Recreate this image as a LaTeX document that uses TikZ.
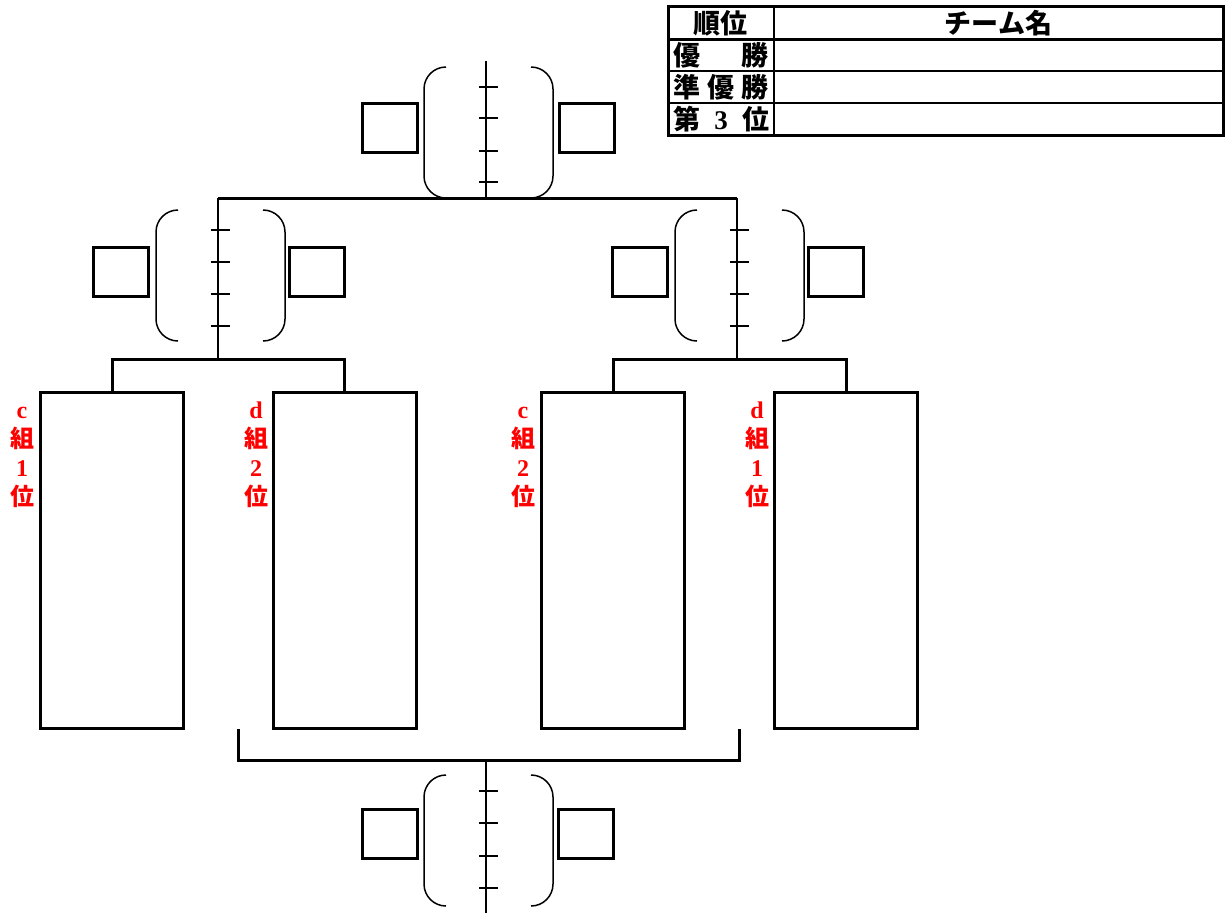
\documentclass[tikz,border=0pt]{standalone}
\usepackage{fontspec}
\newfontfamily\jp{Noto Sans CJK JP}
\newfontfamily\lat{Liberation Serif}
\begin{document}
\begin{tikzpicture}[x=1pt,y=-1pt,
  thickln/.style={line width=3pt},
  thinln/.style={line width=2pt},
  tickln/.style={line width=1.5pt},
  parenln/.style={line width=1.5pt, rounded corners=22pt},
  team/.style={draw, line width=3pt, minimum width=143pt, minimum height=336pt, inner sep=0pt},
  score/.style={draw, line width=3pt, minimum width=55pt, minimum height=49pt, inner sep=0pt},
  lbl/.style={text=red, font=\jp\bfseries\fontsize{24}{29}\selectfont, align=center, inner sep=0pt},
  tbl/.style={font=\jp\bfseries\fontsize{27}{27}\selectfont, inner sep=0pt},
  tblline/.style={line width=2.5pt}]
\useasboundingbox (0,0) rectangle (1228,914);

% ---- table ----
\draw[line width=3pt] (668,6) rectangle (1223,135);
\draw[tblline] (668,39.5) -- (1223,39.5);
\draw[tblline] (668,71) -- (1223,71);
\draw[tblline] (668,103) -- (1223,103);
\draw[tblline] (774,6) -- (774,135);
\node[tbl] (h1) at (720,23) {順位};
\node[tbl] (h2) at (998.5,23) {チーム名};
\node[tbl] (w1) at (721,55.5) {\makebox[96pt]{優\hfill 勝}};
\node[tbl] (w2) at (721,87.5) {\makebox[96pt]{準\hfill 優\hfill 勝}};
\node[tbl] (w3) at (721,119.5) {\makebox[96pt]{第\hfill{\lat 3}\hfill 位}};

% ---- team boxes ----
\node[team] (r1) at (112.2,560) {};
\node[team] (r2) at (344.5,560) {};
\node[team] (r3) at (613,560) {};
\node[team] (r4) at (846,560) {};

% ---- red labels ----
\node[lbl] (l1) at (22,453) {{\lat c}\vphantom{組}\\組\\{\lat 1}\vphantom{組}\\位};
\node[lbl] (l2) at (256,453) {{\lat d}\vphantom{組}\\組\\{\lat 2}\vphantom{組}\\位};
\node[lbl] (l3) at (523,453) {{\lat c}\vphantom{組}\\組\\{\lat 2}\vphantom{組}\\位};
\node[lbl] (l4) at (757,453) {{\lat d}\vphantom{組}\\組\\{\lat 1}\vphantom{組}\\位};

% ---- junction coordinates ----
\coordinate (jL) at (218,359);
\coordinate (jR) at (737,359);
\coordinate (tL) at (218,198);
\coordinate (tR) at (737,198);
\coordinate (tM) at (486,198);
\coordinate (tTop) at (486,61);
\coordinate (bL) at (238,729);
\coordinate (bR) at (739,729);
\coordinate (bM) at (486,760);
\coordinate (bBot) at (486,913);

% ---- connectors ----
\draw[thickln] (r1.north) |- (jL) -| (r2.north);
\draw[thickln] (r3.north) |- (jR) -| (r4.north);
\draw[thinln] (jL) -- (tL);
\draw[thinln] (jR) -- (tR);
\draw[thickln] (tL) -- (tR);
\draw[thinln] (tM) -- (tTop);
\draw[thickln] (bL) |- (bM) -| (bR);
\draw[thinln] (bM) -- (bBot);

% ---- score boxes ----
\node[score] (s1) at (389.5,127.5) {};
\node[score] (s2) at (586.5,127.5) {};
\node[score] (s3) at (120.5,271.5) {};
\node[score] (s4) at (317,271.5) {};
\node[score] (s5) at (639.5,271.5) {};
\node[score] (s6) at (836,271.5) {};
\node[score] (s7) at (390,834) {};
\node[score] (s8) at (585.5,834) {};

% ---- parentheses ----
\foreach \xc/\yt in {486/67, 218/210, 737/210, 486/775} {
  \draw[parenln] (\xc-40,\yt) -- (\xc-62,\yt) -- (\xc-62,\yt+131) -- (\xc-40,\yt+131);
  \draw[parenln] (\xc+45,\yt) -- (\xc+67,\yt) -- (\xc+67,\yt+131) -- (\xc+45,\yt+131);
}

% ---- ticks ----
\foreach \y in {87,118,151,182} \draw[tickln] (479,\y) -- (498,\y);
\foreach \y in {230,262,294,326} {
  \draw[tickln] (211,\y) -- (230,\y);
  \draw[tickln] (730,\y) -- (749,\y);
}
\foreach \y in {791,823,856,888} \draw[tickln] (479,\y) -- (498,\y);
\end{tikzpicture}
\end{document}
